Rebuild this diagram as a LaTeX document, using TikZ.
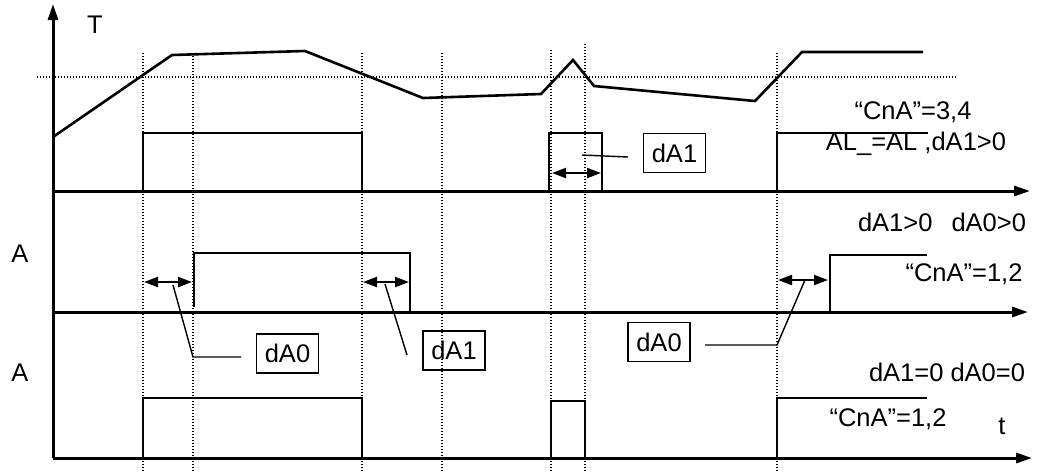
\documentclass[tikz,border=0pt]{standalone}
\usepackage{fontspec}
\setmainfont{Liberation Sans}
\usetikzlibrary{arrows.meta}
\begin{document}
\begin{tikzpicture}[x=1pt,y=-1pt,
  axis/.style={line width=3pt,-{Triangle[length=16pt,width=10pt]}},
  sig/.style={line width=2.6pt,line join=miter},
  dots/.style={line width=1.3pt,dash pattern=on 1.3pt off 1.7pt},
  lead/.style={line width=1.4pt},
  dbl/.style={line width=2.2pt,{Triangle[length=14pt,width=10pt]}-{Triangle[length=14pt,width=10pt]}},
  lbl/.style={font=\fontsize{25.5}{30}\selectfont,inner sep=0pt,anchor=base},
  boxl/.style={draw,line width=1.4pt,font=\fontsize{25.5}{30}\selectfont,inner sep=0pt,minimum width=62pt,minimum height=39pt}
]
\useasboundingbox (0,0) rectangle (1042,475);
% dotted guides
\foreach \x/\t in {143/53,193/53,362/53,442/53,551/50,585/44,777/53}{
  \draw[dots] (\x,\t) -- (\x,472);
}
\coordinate (hl) at (37,77); \coordinate (hr) at (956,77);
\draw[dots] (hl) -- (hr);
% axes
\coordinate (yb) at (53,458); \coordinate (yt) at (53,4);
\draw[axis] (yb) -- (yt);
\coordinate (a1s) at (53,191); \coordinate (a1e) at (1030,191);
\coordinate (a2s) at (53,312); \coordinate (a2e) at (1028,312);
\coordinate (a3s) at (53,458); \coordinate (a3e) at (1032,458);
\draw[axis] (a1s) -- (a1e);
\draw[axis] (a2s) -- (a2e);
\draw[axis] (a3s) -- (a3e);
% temperature curve
\draw[sig] (53,137) -- (172,55) -- (305,51) -- (423,98) -- (541,94) -- (573,60) -- (594,86) -- (755,101) -- (802,52) -- (923,52);
% row 1 pulses
\draw[sig] (143,191) -- (143,133) -- (362,133) -- (362,191);
\draw[sig] (549,191) -- (549,133) -- (602,133) -- (602,191);
\draw[sig] (777,191) -- (777,133) -- (928,133);
% row 2 pulses
\draw[sig] (194,307) -- (194,253) -- (410,253) -- (410,312);
\draw[sig] (830,312) -- (830,255) -- (927,255);
% row 3 pulses
\draw[sig] (143,458) -- (143,398) -- (362,398) -- (362,458);
\draw[sig] (551,458) -- (551,401) -- (585,401) -- (585,458);
\draw[sig] (777,458) -- (777,398) -- (927,398);
% double arrows
\coordinate (d1a) at (552,173); \coordinate (d1b) at (601,173);
\coordinate (d2a) at (144,282); \coordinate (d2b) at (192,282);
\coordinate (d3a) at (363,282); \coordinate (d3b) at (409,282);
\coordinate (d4a) at (778,280); \coordinate (d4b) at (828,280);
\draw[dbl] (d1a) -- (d1b);
\draw[dbl] (d2a) -- (d2b);
\draw[dbl] (d3a) -- (d3b);
\draw[dbl] (d4a) -- (d4b);
% boxes
\node[boxl] (b1) at (674.5,153) {dA1};
\node[boxl] (b2) at (287.5,353.5) {dA0};
\node[boxl] (b3) at (454,350.5) {dA1};
\node[boxl] (b4) at (659,342) {dA0};
% leaders
\coordinate (l1s) at (582,155); \coordinate (l1e) at (628,157);
\draw[lead] (l1s) -- (l1e);
\coordinate (l2s) at (173,285); \coordinate (l2m) at (193,357); \coordinate (l2e) at (241,357);
\draw[lead] (l2s) -- (l2m) -- (l2e);
\coordinate (l3s) at (385,284); \coordinate (l3e) at (407,355);
\draw[lead] (l3s) -- (l3e);
\coordinate (l4s) at (805,280); \coordinate (l4m) at (777,345); \coordinate (l4e) at (705,345);
\draw[lead] (l4s) -- (l4m) -- (l4e);
% labels
\node[lbl] (T) at (95,33) {T};
\node[lbl] (A2) at (20,262) {A};
\node[lbl] (A3) at (20,381) {A};
\node[lbl] (c34) at (913,119) {“CnA”=3,4};
\node[lbl] (al) at (916,150) {AL\_=AL ,dA1>0};
\node[lbl] (g2) at (942,231) {dA1>0\hspace{0.75em}dA0>0};
\node[lbl] (c12a) at (964,281) {“CnA”=1,2};
\node[lbl] (g3) at (947,381) {dA1=0 dA0=0};
\node[lbl] (c12b) at (888,426) {“CnA”=1,2};
\node[lbl] (tt) at (1002,434) {t};
\end{tikzpicture}
\end{document}
